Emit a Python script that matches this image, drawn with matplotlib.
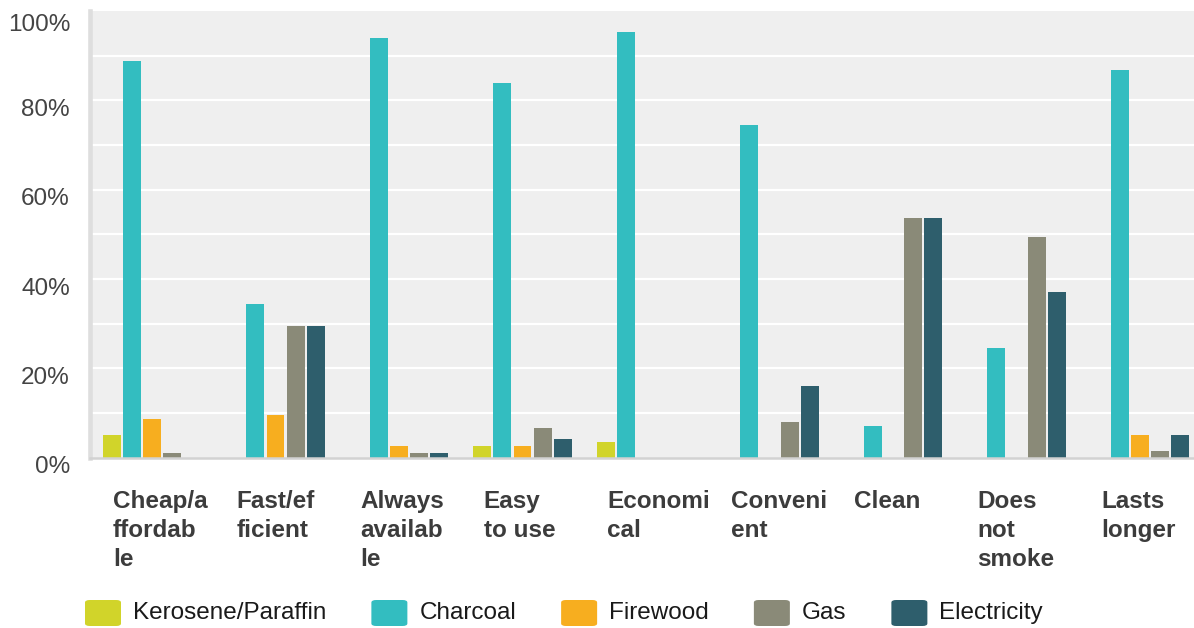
import matplotlib
matplotlib.use("Agg")
import matplotlib.pyplot as plt
from matplotlib.patches import FancyBboxPatch
from matplotlib.transforms import ScaledTranslation, blended_transform_factory
import numpy as np

# reasons given for each fuel, % of respondents
categories = ["Cheap/a\nffordab\nle", "Fast/ef\nficient", "Always\navailab\nle",
              "Easy\nto use", "Economi\ncal", "Conveni\nent", "Clean",
              "Does\nnot\nsmoke", "Lasts\nlonger"]
series_names = ["Kerosene/Paraffin", "Charcoal", "Firewood", "Gas", "Electricity"]
kerosene = [5.1, 0, 0, 2.6, 3.5, 0, 0, 0, 0]
charcoal = [88.8, 34.4, 94.0, 83.9, 95.3, 74.5, 7.1, 24.6, 86.8]
firewood = [8.7, 9.6, 2.6, 2.6, 0, 0, 0, 0, 5.1]
gas = [1.1, 29.5, 1.1, 6.7, 0, 8.0, 53.6, 49.4, 1.5]
electricity = [0, 29.5, 1.1, 4.2, 0, 16.1, 53.6, 37.1, 5.1]
ytick_values = [0, 20, 40, 60, 80, 100]

colors = ["#d1d42a", "#33bdc0", "#f7ae1f", "#8a8a78", "#2e5e6c"]
series = [kerosene, charcoal, firewood, gas, electricity]

W, H = 1194, 628
FS = 17.5
plt.rcParams['font.family'] = ['Liberation Sans', 'DejaVu Sans']
fig = plt.figure(figsize=(W / 100, H / 100), dpi=100)
fig.patch.set_facecolor("white")

# axes box in pixels: left 90.25, right 1201.75, top 11, bottom 457.8
ax = fig.add_axes([90.25 / W, 1 - 457.8 / H, (1201.75 - 90.25) / W, (457.8 - 11) / H])
ax.set_facecolor("#efefef")

x = np.arange(len(categories))
bar_w = 0.1457
step = 0.162
for i, (vals, col) in enumerate(zip(series, colors)):
    ax.bar(x + (i - 2) * step, vals, width=bar_w, color=col, zorder=3, linewidth=0)

ax.set_xlim(-0.5, len(categories) - 0.5)
ax.set_ylim(0, 100)

# white grid every 10%
for v in range(10, 100, 10):
    ax.axhline(v, color="white", lw=1.6, zorder=1)

for s in ["top", "right"]:
    ax.spines[s].set_visible(False)
ax.spines["left"].set_color("#dedede")
ax.spines["left"].set_linewidth(3.3)
ax.spines["bottom"].set_color("#d2d2d2")
ax.spines["bottom"].set_linewidth(1.8)
ax.spines["left"].set_zorder(4)
ax.spines["bottom"].set_zorder(4)

ax.set_yticks([])
ax.set_xticks([])

# y labels sit a little below their gridline
ytrans = blended_transform_factory(fig.transFigure, ax.transData)
for v in ytick_values:
    off = 14 if v == 100 else 9.5
    ax.text(70 / W, v, f"{v}%", transform=ytrans + ScaledTranslation(0, -off / 100, fig.dpi_scale_trans),
            ha="right", va="center", fontsize=FS, color="#444444")

# category labels, left aligned inside each slot
xtrans = blended_transform_factory(ax.transData, fig.transFigure)
for i, lab in enumerate(categories):
    ax.text(i - 0.5 + 0.185, 1 - 490 / H, lab, transform=xtrans, ha="left", va="top",
            fontsize=FS, fontweight="bold", color="#3c3c3c", linespacing=1.32)

# legend row
fig.canvas.draw()
renderer = fig.canvas.get_renderer()
xpos = 85
for name, col in zip(series_names, colors):
    sq = FancyBboxPatch((xpos / W, 1 - 626 / H), 36 / W, 26 / H,
                        boxstyle="round,pad=0,rounding_size=0.004",
                        transform=fig.transFigure, facecolor=col, edgecolor="none")
    fig.patches.append(sq)
    t = fig.text((xpos + 48) / W, 1 - 613 / H, name, ha="left", va="center",
                 fontsize=FS, color="#1a1a1a")
    bb = t.get_window_extent(renderer)
    xpos = bb.x1 + 45

fig.savefig("out.png", dpi=100, facecolor="white")
